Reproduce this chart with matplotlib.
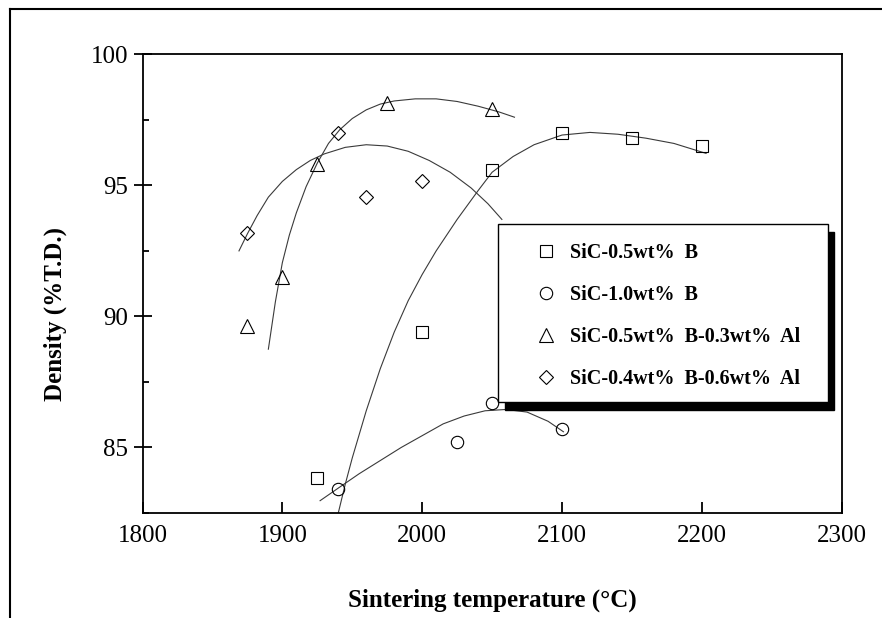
import matplotlib
matplotlib.use("Agg")
import matplotlib.pyplot as plt
from matplotlib.lines import Line2D
from matplotlib.patches import Rectangle
from matplotlib.ticker import MultipleLocator

plt.rcParams['font.family'] = ['Liberation Serif', 'DejaVu Serif']

# measured points
sq_T = [1925, 2000, 2050, 2100, 2150, 2200]
sq_D = [83.85, 89.4, 95.6, 97.0, 96.8, 96.5]
ci_T = [1940, 2025, 2050, 2100]
ci_D = [83.4, 85.2, 86.7, 85.7]
tr_T = [1875, 1900, 1925, 1975, 2050]
tr_D = [89.65, 91.5, 95.8, 98.15, 97.9]
di_T = [1875, 1940, 1960, 2000]
di_D = [93.2, 97.0, 94.55, 95.15]

# fitted curves
sq_fit_T = [1940, 1945, 1950, 1960, 1970, 1980, 1990, 2000, 2010, 2025, 2040, 2050,
            2065, 2080, 2100, 2120, 2140, 2160, 2180, 2203]
sq_fit_D = [82.5, 83.6, 84.6, 86.4, 88.0, 89.4, 90.6, 91.6, 92.5, 93.7, 94.8, 95.5,
            96.1, 96.55, 96.92, 97.02, 96.95, 96.8, 96.6, 96.22]
ci_fit_T = [1927, 1940, 1955, 1970, 1985, 2000, 2015, 2030, 2045, 2060, 2075, 2090, 2101]
ci_fit_D = [82.97, 83.45, 84.0, 84.5, 85.0, 85.45, 85.9, 86.2, 86.4, 86.45, 86.35, 86.0, 85.6]
tr_fit_T = [1890, 1895, 1900, 1905, 1910, 1917, 1925, 1933, 1941, 1950, 1960, 1970,
            1980, 1995, 2010, 2025, 2040, 2055, 2066]
tr_fit_D = [88.75, 90.55, 92.05, 93.1, 93.95, 94.95, 95.85, 96.6, 97.12, 97.55, 97.88, 98.1,
            98.22, 98.3, 98.3, 98.2, 98.02, 97.8, 97.6]
di_fit_T = [1869, 1875, 1882, 1890, 1900, 1910, 1920, 1930, 1945, 1960, 1975, 1990,
            2005, 2020, 2035, 2047, 2057]
di_fit_D = [92.5, 93.15, 93.85, 94.55, 95.15, 95.6, 95.95, 96.2, 96.45, 96.55, 96.5, 96.3,
            95.95, 95.5, 94.9, 94.3, 93.7]

labels = ['SiC-0.5wt%  B', 'SiC-1.0wt%  B', 'SiC-0.5wt%  B-0.3wt%  Al', 'SiC-0.4wt%  B-0.6wt%  Al']

W, H = 882, 618
fig = plt.figure(figsize=(W / 100, H / 100), dpi=100)
ax = fig.add_axes([142.5 / W, 1 - 513 / H, (841.7 - 142.5) / W, (513 - 54.3) / H])

line_kw = dict(color='#3a3a3a', lw=0.8, zorder=2)
ax.plot(sq_fit_T, sq_fit_D, **line_kw)
ax.plot(ci_fit_T, ci_fit_D, **line_kw)
ax.plot(tr_fit_T, tr_fit_D, **line_kw)
ax.plot(di_fit_T, di_fit_D, **line_kw)

mk = dict(linestyle='none', mfc='none', mec='black', mew=0.8, zorder=3)
h1, = ax.plot(sq_T, sq_D, marker='s', ms=8.4, **mk)
h2, = ax.plot(ci_T, ci_D, marker='o', ms=8.9, **mk)
h3, = ax.plot(tr_T, tr_D, marker='^', ms=9.6, **mk)
h4, = ax.plot(di_T, di_D, marker='D', ms=7.4, **mk)

ax.set_xlim(1800, 2300)
ax.set_ylim(82.5, 100)
ax.xaxis.set_major_locator(MultipleLocator(100))
ax.yaxis.set_major_locator(MultipleLocator(5))
ax.yaxis.set_minor_locator(MultipleLocator(2.5))
ax.tick_params(axis='x', which='major', direction='in', length=8, width=1.3, labelsize=18, pad=9)
ax.tick_params(axis='y', which='major', direction='inout', length=13, width=1.3, labelsize=18, pad=4)
ax.tick_params(axis='y', which='minor', direction='in', length=4, width=1.3)
for s in ax.spines.values():
    s.set_linewidth(1.3)

ax.set_xlabel('Sintering temperature (°C)', fontsize=18, fontweight='bold')
ax.xaxis.set_label_coords(0.5, -(600 - 513) / 458.7)
ax.xaxis.label.set_va('center')
ax.set_ylabel('Density (%T.D.)', fontsize=18, fontweight='bold')
ax.yaxis.set_label_coords((55 - 142.5) / 699.2, (513 - 314) / 458.7)
ax.yaxis.label.set_va('center')
ax.yaxis.label.set_ha('center')

# legend box with a hard black shadow
bx0, by0, bx1, by1 = 498.3, 224, 827.7, 401.7
shadow = Rectangle(((bx0 + 6.5) / W, 1 - (by1 + 8) / H), (bx1 - bx0) / W, (by1 - by0) / H,
                   transform=fig.transFigure, facecolor='black', edgecolor='black',
                   clip_on=False, zorder=4)
box = Rectangle((bx0 / W, 1 - by1 / H), (bx1 - bx0) / W, (by1 - by0) / H,
                transform=fig.transFigure, facecolor='white', edgecolor='black', lw=1.0,
                clip_on=False, zorder=5)
ax.add_patch(shadow)
ax.add_patch(box)
leg = ax.legend([h1, h2, h3, h4], labels, loc='upper left',
                bbox_to_anchor=(535.7 / W, 1 - 243.5 / H), bbox_transform=fig.transFigure,
                frameon=False, borderpad=0, borderaxespad=0, handlelength=1.0,
                handletextpad=0.7, labelspacing=1.08, prop={'size': 14.5, 'weight': 'bold'})
leg.set_zorder(6)

# outer frame (only top and left edges are inside the image)
fig.add_artist(Line2D([10 / W, 1], [1 - 9 / H, 1 - 9 / H], color='black', lw=1.5))
fig.add_artist(Line2D([10 / W, 10 / W], [0, 1 - 9 / H], color='black', lw=1.5))

fig.savefig('out.png', dpi=100)
